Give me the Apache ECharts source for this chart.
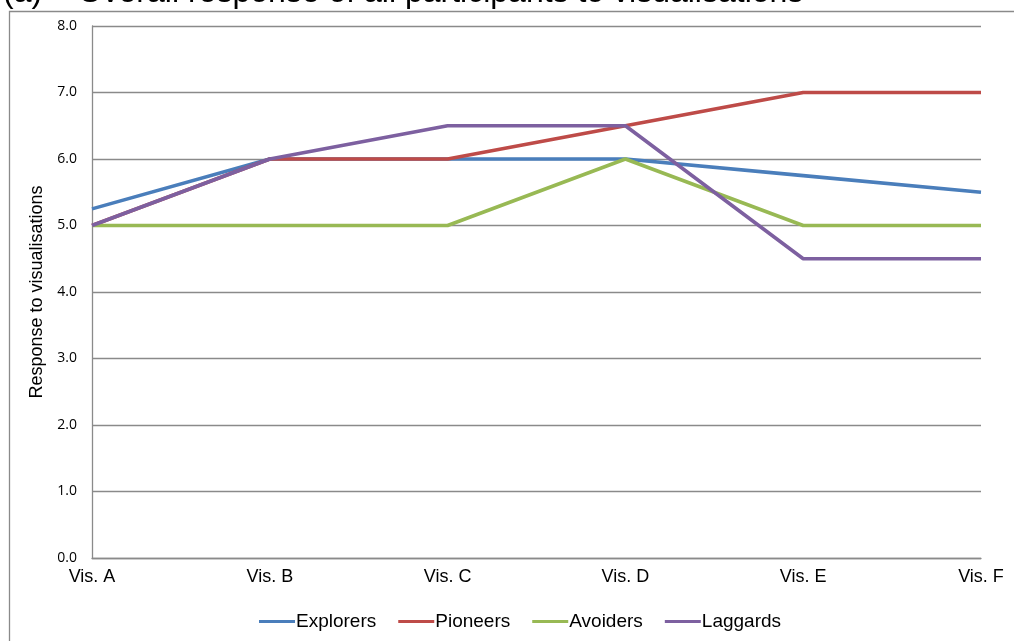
<!DOCTYPE html>
<html>
<head>
<meta charset="utf-8">
<script src="https://cdn.jsdelivr.net/npm/echarts@6/dist/echarts.min.js"></script>
<style>
html,body{margin:0;padding:0;background:#fff;}
#chart{width:1014px;height:641px;}
</style>
</head>
<body>
<div id="chart"></div>
<script>
const categories = ['Vis. A', 'Vis. B', 'Vis. C', 'Vis. D', 'Vis. E', 'Vis. F'];
const explorers = [5.25, 6.0, 6.0, 6.0, 5.75, 5.5];
const pioneers  = [5.0, 6.0, 6.0, 6.5, 7.0, 7.0];
const avoiders  = [5.0, 5.0, 5.0, 6.0, 5.0, 5.0];
const laggards  = [5.0, 6.0, 6.5, 6.5, 4.5, 4.5];
const titleText = '(a)    Overall response of all participants to visualisations';
const yAxisName = 'Response to visualisations';

const chart = echarts.init(document.getElementById('chart'));
const mk = (name, data, color) => ({
  name, type: 'line', data, symbol: 'none', showSymbol: false,
  lineStyle: { color, width: 3.6 }, itemStyle: { color }, animation: false
});
chart.setOption({
  animation: false,
  backgroundColor: '#fff',
  graphic: [
    { type: 'rect', left: 7, top: 9, silent: true,
      shape: { width: 1100, height: 700 },
      style: { fill: 'none', stroke: '#8a8a8a', lineWidth: 1.3 } },
    { type: 'text', left: 3, top: -23, silent: true,
      style: { text: titleText, font: '32px Arial, "Liberation Sans", sans-serif', fill: '#000' } }
  ],
  grid: { left: 92, right: 33, top: 26, bottom: 83, containLabel: false },
  legend: {
    left: 254, top: 607, icon: 'rect', itemWidth: 36, itemHeight: 3, itemGap: 22,
    textStyle: { fontFamily: 'Arial, "Liberation Sans", sans-serif', fontSize: 19, color: '#000', padding: [0, 0, 0, -4] },
    data: ['Explorers', 'Pioneers', 'Avoiders', 'Laggards']
  },
  xAxis: {
    type: 'category', data: categories, boundaryGap: false,
    axisLine: { show: true, lineStyle: { color: '#8a8a8a', width: 1.3 } },
    axisTick: { show: false },
    axisLabel: { color: '#000', fontSize: 18, fontFamily: 'Arial, "Liberation Sans", sans-serif', margin: 10,
                 showMinLabel: true, showMaxLabel: true, interval: 0 },
    splitLine: { show: false }
  },
  yAxis: {
    type: 'value', min: 0, max: 8, interval: 1,
    name: yAxisName, nameLocation: 'middle', nameGap: 38,
    nameTextStyle: { color: '#000', fontSize: 18, fontFamily: 'Arial, "Liberation Sans", sans-serif' },
    axisLine: { show: true, lineStyle: { color: '#8a8a8a', width: 1.3 } },
    axisTick: { show: false },
    axisLabel: { color: '#000', fontSize: 14, fontFamily: '"Open Sans", sans-serif', margin: 15,
                 formatter: v => v.toFixed(1) },
    splitLine: { show: true, lineStyle: { color: '#8a8a8a', width: 1.3 } }
  },
  series: [
    mk('Explorers', explorers, '#4a7ebb'),
    mk('Pioneers', pioneers, '#be4b48'),
    mk('Avoiders', avoiders, '#98b954'),
    mk('Laggards', laggards, '#7d60a0')
  ]
});
</script>
</body>
</html>
